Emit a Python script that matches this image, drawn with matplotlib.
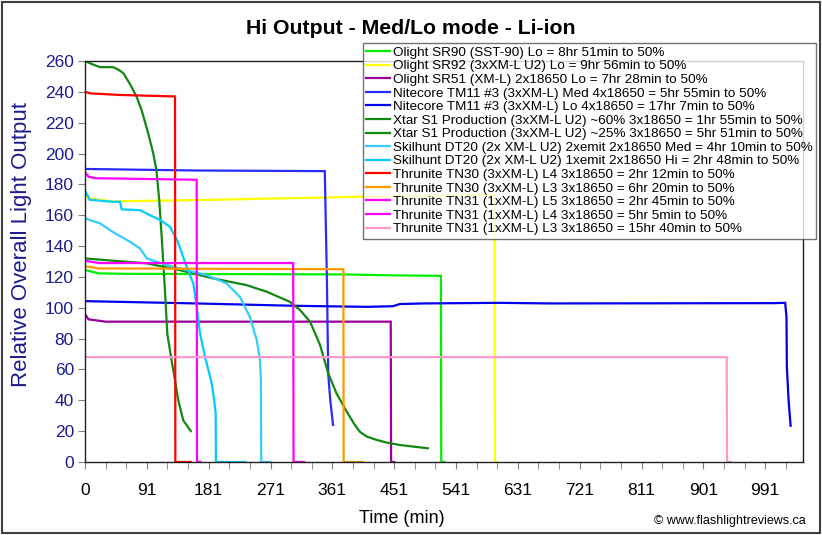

import matplotlib
matplotlib.use("Agg")
import matplotlib.pyplot as plt
from matplotlib.patches import Rectangle


plt.rcParams["font.family"] = ["Liberation Sans", "DejaVu Sans"]

# --- data (minutes, relative output) --------------------------------------
sr90_t = [0, 20, 60, 250, 380, 450, 518, 518.5, 523]
sr90_v = [124.5, 122.3, 122, 121.8, 121.6, 121, 120.7, 0, 0]

sr92_t = [0, 4, 40, 185, 400, 596, 596.5, 600]
sr92_v = [175, 171, 169, 170, 172, 173, 0, 0]

sr51_t = [0, 5, 30, 445, 445.5, 450]
sr51_v = [96, 92.5, 91, 91, 0, 0]

tm11_med_t = [0, 162, 349, 352, 354, 357, 361]
tm11_med_v = [190, 189, 188.6, 120, 57, 40, 24]

tm11_lo_t = [0, 163, 303, 410, 448, 458, 492, 604, 677, 1002, 1019, 1021,
             1021.5, 1024, 1027]
tm11_lo_v = [104.3, 102.8, 101.3, 100.6, 101, 102.4, 102.8, 103.2, 102.8,
             103, 103.2, 94, 62, 40, 23.5]

xtar60_t = [0, 10, 22, 41, 50, 56, 65.5, 75, 82.5, 92, 99.4, 104, 108, 111.6,
            116.4, 119.8, 126, 131, 135.8, 143, 154]
xtar60_v = [260, 258, 256, 256, 254, 252, 245, 237, 228, 213, 200, 189, 170,
            146, 111, 83, 66, 53, 40, 27, 20]

xtar25_t = [0, 41, 90, 138, 187, 235, 264.5, 298, 313, 327.5, 342, 354, 366,
            381, 392, 400, 410, 424.6, 440, 458.5, 499]
xtar25_v = [132, 130.5, 128.8, 124.4, 119, 114.7, 110.4, 103.9, 98.5, 91, 76,
            57.5, 44.5, 32.6, 24.5, 19.6, 16.5, 14.3, 12.5, 11, 8.9]

dt20_med_t = [0, 22, 41, 65.5, 80, 90, 119, 148, 177, 206, 225.6, 240, 250,
              254.7, 256, 256.5, 270]
dt20_med_v = [158, 154.7, 149, 142.8, 138.5, 132, 127.7, 124.4, 121.2, 115.8,
              107, 94, 79, 66, 53, 0, 0]

dt20_hi_t = [0, 7, 41, 51, 53.4, 80, 94.6, 109, 123.7, 135, 142, 148, 157.6,
             162.6, 167.4, 174.7, 184.4, 188, 190.2, 190.5, 233]
dt20_hi_v = [176, 170, 168.7, 168.7, 163.8, 163.3, 160, 157, 152.5, 143, 134,
             126.6, 115.8, 100.7, 83.4, 68.3, 51, 40, 31.6, 0, 0]

tn30_l4_t = [0, 8, 50, 131, 131.5, 154]
tn30_l4_v = [240, 239, 238, 237, 0, 0]

tn30_l3_t = [0, 20, 376, 376.5, 405]
tn30_l3_v = [127, 125.5, 125, 0, 0]

tn31_l5_t = [0, 5, 15, 162.5, 163, 168]
tn31_l5_v = [188, 185, 184, 183, 0, 0]

tn31_l4_t = [0, 20, 303, 303.5, 319]
tn31_l4_v = [130.5, 129, 129, 0, 0]

tn31_l3_t = [0, 934, 934.5, 940]
tn31_l3_v = [68, 68, 0, 0]

labels = [
    "Olight SR90 (SST-90) Lo = 8hr 51min to 50%",
    "Olight SR92 (3xXM-L U2) Lo = 9hr 56min to 50%",
    "Olight SR51 (XM-L) 2x18650 Lo = 7hr 28min to 50%",
    "Nitecore TM11 #3 (3xXM-L) Med 4x18650 = 5hr 55min to 50%",
    "Nitecore TM11 #3 (3xXM-L) Lo 4x18650 = 17hr 7min to 50%",
    "Xtar S1 Production (3xXM-L U2) ~60% 3x18650 = 1hr 55min to 50%",
    "Xtar S1 Production (3xXM-L U2) ~25% 3x18650 = 5hr 51min to 50%",
    "Skilhunt DT20 (2x XM-L U2) 2xemit 2x18650 Med = 4hr 10min to 50%",
    "Skilhunt DT20 (2x XM-L U2) 1xemit 2x18650 Hi = 2hr 48min to 50%",
    "Thrunite TN30 (3xXM-L) L4 3x18650 = 2hr 12min to 50%",
    "Thrunite TN30 (3xXM-L) L3 3x18650 = 6hr 20min to 50%",
    "Thrunite TN31 (1xXM-L) L5 3x18650 = 2hr 45min to 50%",
    "Thrunite TN31 (1xXM-L) L4 3x18650 = 5hr 5min to 50%",
    "Thrunite TN31 (1xXM-L) L3 3x18650 = 15hr 40min to 50%",
]

xtick_pos = [0, 90, 180, 270, 360, 450, 540, 630, 720, 810, 900, 990]
xtick_labels = ["0", "91", "181", "271", "361", "451", "541", "631", "721",
                "811", "901", "991"]

# --- styling ---------------------------------------------------------------
NAVY = "#1c1c8c"
series = [
    (sr90_t, sr90_v, "#00ee00"),
    (sr92_t, sr92_v, "#ffff00"),
    (sr51_t, sr51_v, "#990099"),
    (tm11_med_t, tm11_med_v, "#2a2aff"),
    (tm11_lo_t, tm11_lo_v, "#0000ee"),
    (xtar60_t, xtar60_v, "#118811"),
    (xtar25_t, xtar25_v, "#118811"),
    (dt20_med_t, dt20_med_v, "#33ccff"),
    (dt20_hi_t, dt20_hi_v, "#00ccff"),
    (tn30_l4_t, tn30_l4_v, "#ff0000"),
    (tn30_l3_t, tn30_l3_v, "#ff9900"),
    (tn31_l5_t, tn31_l5_v, "#ff00ff"),
    (tn31_l4_t, tn31_l4_v, "#ff00ff"),
    (tn31_l3_t, tn31_l3_v, "#ff99cc"),
]


def main():
    W, H = 822, 535
    fig = plt.figure(figsize=(W / 100, H / 100), dpi=100)
    ax = fig.add_axes([85 / W, (H - 462) / H, (803 - 85) / W, (462 - 61) / H])

    for (t, v, color), label in zip(series, labels):
        ax.plot(t, v, color=color, lw=1.6, label=label, solid_joinstyle="miter")

    ax.set_xlim(0, 1045)
    ax.set_ylim(0, 260)
    ax.set_yticks(range(0, 261, 20))
    ax.set_xticks(xtick_pos)
    ax.set_xticklabels(xtick_labels)
    ax.set_xticks(range(0, 1045, 30), minor=True)
    ax.tick_params(axis="y", direction="out", length=5, color="#808080",
                   labelsize=12.5, labelcolor=NAVY, pad=3)
    ax.tick_params(axis="x", which="both", direction="out", length=5,
                   color="#808080", labelsize=12.5, pad=10)
    for spine in ax.spines.values():
        spine.set_color("#202020")
        spine.set_linewidth(1.0)

    ax.set_ylabel("Relative Overall Light Output", color=NAVY, fontsize=16)
    ax.yaxis.set_label_coords(-0.074, 0.542)
    ax.set_xlabel("Time (min)", fontsize=13)
    ax.xaxis.set_label_coords((402 - 85) / (803 - 85), -0.12)

    fig.text(0.5, 1 - 29 / H, "Hi Output - Med/Lo mode - Li-ion",
             ha="center", va="center", fontsize=15.3, fontweight="bold")
    fig.text(806 / W, 1 - 521 / H, "\u00a9 www.flashlightreviews.ca",
             ha="right", va="center", fontsize=9)

    leg = fig.legend(loc="upper left", bbox_to_anchor=(363 / W, 1 - 43 / H),
                     borderaxespad=0, fontsize=9.7, frameon=True, fancybox=False,
                     borderpad=0.25, labelspacing=0.085, handlelength=1.75,
                     handletextpad=0.25)
    leg.get_frame().set_edgecolor("#505050")
    leg.get_frame().set_linewidth(1.0)
    leg.set_zorder(10)

    fig.patches.append(Rectangle((0.002, 0.003), 0.995, 0.994,
                                 transform=fig.transFigure, fill=False,
                                 edgecolor="#404040", linewidth=1.5))

    fig.savefig("out.png", dpi=100)
    plt.close(fig)


if __name__ == "__main__":
    main()
